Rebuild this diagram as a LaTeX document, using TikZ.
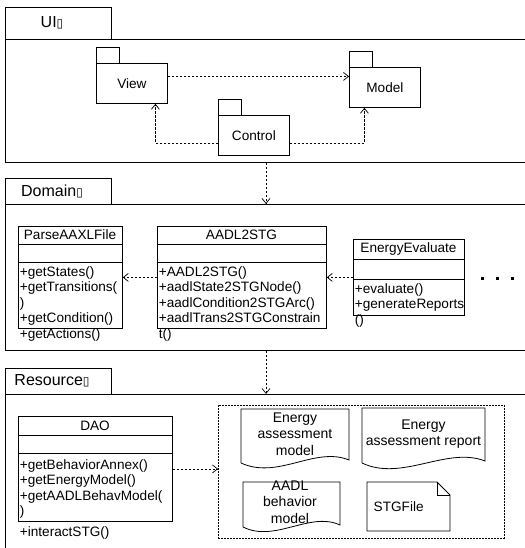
\documentclass[tikz,border=0pt]{standalone}
\usepackage{fontspec}
\setmainfont{Liberation Sans}
\newfontfamily\boxfont{DejaVu Sans}
\usetikzlibrary{arrows.meta}

\newcommand{\umlfont}{\fontsize{13.6}{15.5}\selectfont}
\newcommand{\tabfont}{\fontsize{16}{18}\selectfont}
\newcommand{\docfont}{\fontsize{14}{16.5}\selectfont}
\newcommand{\tabmark}{{\boxfont\fontsize{12}{12}\selectfont ▯}}

\begin{document}
\begin{tikzpicture}[x=1pt, y=-1pt, line width=0.8pt, font=\umlfont,
    pkg/.style={draw, anchor=north west, inner sep=0pt},
    box/.style={draw, anchor=north west, inner sep=0pt},
    ops/.style={anchor=north west, inner sep=0pt, align=left},
    dep/.style={line width=0.7pt, dash pattern=on 2.5pt off 1.5pt,
                -{Straight Barb[length=5pt,width=8pt]}}]
    \useasboundingbox[fill=white] (0,0) rectangle (524,548);
    \coordinate (mid) at (266,0);

    % UI layer
    \node[pkg, minimum width=106pt, minimum height=32pt] (uitab) at (5,7) {};
    \node[font=\tabfont] (uilabel) at (52,23) {UI\tabmark};
    \node[pkg, minimum width=523pt, minimum height=123pt] (uibody) at (5,39) {};
    \node[pkg, minimum width=71pt, minimum height=40pt] (view) at (96,63) {View};
    \draw (view.north west) rectangle ++(23,-16);
    \node[pkg, minimum width=71pt, minimum height=40pt] (model) at (349,67) {Model};
    \draw (model.north west) rectangle ++(23,-16);
    \node[pkg, minimum width=71pt, minimum height=40pt] (ctrl) at (218,115) {Control};
    \draw (ctrl.north west) rectangle ++(23,-16);
    \draw[dep] ([yshift=7pt]view.east) -- ([yshift=7pt]view.east -| model.west);
    \draw[dep] ([yshift=-8pt]ctrl.west) -| ([xshift=23.5pt]view.south);
    \draw[dep] ([yshift=-8pt]ctrl.east) -| ([xshift=-20.5pt]model.south);

    % Domain layer
    \node[pkg, minimum width=106pt, minimum height=26pt] (domtab) at (5,178) {};
    \node[font=\tabfont] (domlabel) at (52,191) {Domain\tabmark};
    \node[pkg, minimum width=523pt, minimum height=146pt] (dombody) at (5,204) {};
    \draw[dep] (uibody.south -| mid) -- (dombody.north -| mid);

    \node[box, minimum width=104pt, minimum height=102pt] (parse) at (18,226) {};
    \draw (18,244) -- (122,244) (18,262) -- (122,262);
    \node (parse-name) at (70,235) {ParseAAXLFile};
    \node[ops] (parse-ops) at (19.5,266) {+getStates()\\+getTransitions(\\)\\+getCondition()\\+getActions()};

    \node[box, minimum width=169pt, minimum height=102pt] (aadl) at (157,226) {};
    \draw (157,244) -- (326,244) (157,262) -- (326,262);
    \node (aadl-name) at (241.5,235) {AADL2STG};
    \node[ops] (aadl-ops) at (158.5,266) {+AADL2STG()\\+aadlState2STGNode()\\+aadlCondition2STGArc()\\+aadlTrans2STGConstrain\\t()};

    \node[box, minimum width=111pt, minimum height=76pt] (energy) at (353,239) {};
    \draw (353,259) -- (464,259) (353,279) -- (464,279);
    \node (energy-name) at (408.5,249) {EnergyEvaluate};
    \node[ops] (energy-ops) at (354.5,283) {+evaluate()\\+generateReports\\()};

    \draw[dep] (aadl.west) -- (parse.east);
    \draw[dep] (energy.west) -- (aadl.east);
    \foreach \dx in {482,497,512}
        \fill (\dx-1.5,279.5) rectangle ++(3,-3);

    % Resource layer
    \node[pkg, minimum width=106pt, minimum height=26pt] (restab) at (5,368) {};
    \node[font=\tabfont] (reslabel) at (52,381) {Resource\tabmark};
    \node[pkg, minimum width=523pt, minimum height=160pt] (resbody) at (5,394) {};
    \draw[dep] (dombody.south -| mid) -- (resbody.north -| mid);

    \node[box, minimum width=154pt, minimum height=105pt] (dao) at (18,416) {};
    \draw (18,435) -- (172,435) (18,453) -- (172,453);
    \node (dao-name) at (95,425.5) {DAO};
    \node[ops] (dao-ops) at (19.5,459) {+getBehaviorAnnex()\\+getEnergyModel()\\+getAADLBehavModel(\\)\\[5pt]+interactSTG()};

    \node[box, dash pattern=on 2pt off 1pt, line width=0.7pt, minimum width=286pt, minimum height=133pt] (store) at (218,405) {};
    \draw[dep] (dao.east) -- (dao.east -| store.west);

    % documents
    \draw (241,463) -- (241,409) -- (349,409) -- (349,460)
        .. controls (315,446) and (278,480) .. (241,463);
    \node[align=center, font=\docfont] (doc-model) at (295,434) {Energy\\assessment\\model};
    \draw (362,463) -- (362,408) -- (485,408) -- (485,461)
        .. controls (447,446) and (402,482) .. (362,463);
    \node[align=center, font=\docfont] (doc-report) at (423.5,434) {Energy\\assessment report};
    \draw (243,527) -- (243,482) -- (340,482) -- (340,525)
        .. controls (310,511) and (275,543) .. (243,527);
    \node[align=center, font=\docfont] (doc-behav) at (290,502) {AADL\\behavior\\model};
    \draw (367,482) -- (437,482) -- (450,495) -- (450,531) -- (367,531) -- cycle;
    \draw (437,482) -- (437,495) -- (450,495);
    \node[anchor=west] (stgfile) at (370,507) {STGFile};
\end{tikzpicture}
\end{document}
